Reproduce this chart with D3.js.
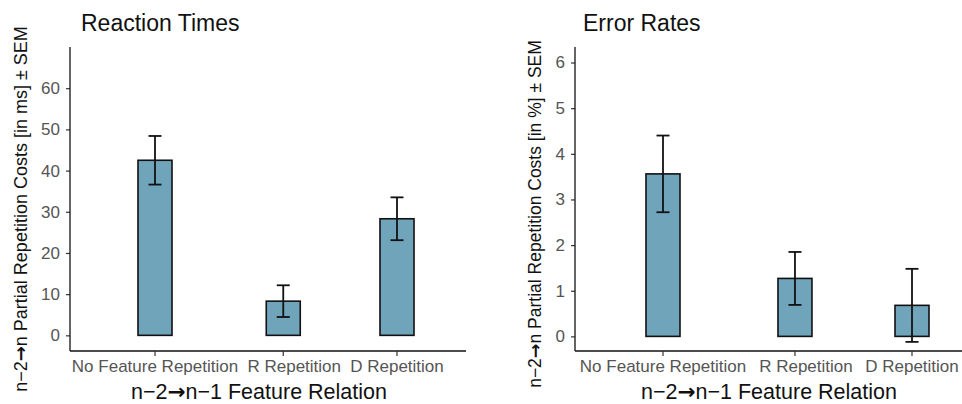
<!DOCTYPE html>
<html>
<head>
<meta charset="utf-8">
<script src="https://cdn.jsdelivr.net/npm/d3@7"></script>
<style>
  body { margin: 0; background: #fff; }
  svg { display: block; font-family: "Liberation Sans", Arial, sans-serif; }
</style>
</head>
<body>
<div id="chart"></div>
<script>
const width = 962;
const height = 404;

// data
const categories = ['No Feature Repetition', 'R Repetition', 'D Repetition'];
const rtMeans = [42.5, 8.3, 28.3];
const rtSems = [5.9, 3.85, 5.2];
const erMeans = [3.56, 1.27, 0.68];
const erSems = [0.84, 0.58, 0.80];
const rtTicks = [0, 10, 20, 30, 40, 50, 60];
const erTicks = [0, 1, 2, 3, 4, 5, 6];

const barFill = '#6fa4bb';
const barWidth = 34;
// the source figure spaces its categories a little unevenly,
// and nudges the middle tick label to the right
const slots = [0, 0.53, 1];
const labelShift = [0, 11, 0];

const svg = d3.select('#chart')
  .append('svg')
  .attr('width', width)
  .attr('height', height);

// label with the heavy arrow in it
function arrowLabel(sel, before, after) {
  sel.append('tspan').text(before);
  sel.append('tspan')
    .style('font-family', '"DejaVu Sans", sans-serif')
    .style('font-weight', 'bold')
    .text('\u2192');
  sel.append('tspan').text(after);
}

// one ggplot-like panel
function drawPanel(p) {
  const g = svg.append('g');

  const y = d3.scaleLinear()
    .domain(p.yDomain)
    .range([p.bottom, p.top]);

  const slotScale = d3.scaleLinear()
    .domain([0, 1])
    .range([p.left + p.firstOffset, p.right - p.lastOffset]);
  const x = d3.scaleOrdinal()
    .domain(categories)
    .range(slots.map(slotScale));

  const data = categories.map((c, i) => ({ cat: c, mean: p.means[i], sem: p.sems[i] }));

  // bars
  g.selectAll('rect.bar')
    .data(data)
    .enter()
    .append('rect')
    .classed('bar', true)
    .attr('x', d => x(d.cat) - barWidth / 2)
    .attr('y', d => y(Math.max(0, d.mean)))
    .attr('width', barWidth)
    .attr('height', d => Math.abs(y(d.mean) - y(0)))
    .attr('fill', barFill)
    .attr('stroke', '#111')
    .attr('stroke-width', 1.6);

  // error bars
  const eb = g.selectAll('g.err')
    .data(data)
    .enter()
    .append('g')
    .classed('err', true)
    .attr('stroke', '#111')
    .attr('stroke-width', 1.8);
  eb.append('line')
    .attr('x1', d => x(d.cat)).attr('x2', d => x(d.cat))
    .attr('y1', d => y(d.mean + d.sem)).attr('y2', d => y(d.mean - d.sem));
  eb.append('line')
    .attr('x1', d => x(d.cat) - 6.5).attr('x2', d => x(d.cat) + 6.5)
    .attr('y1', d => y(d.mean + d.sem)).attr('y2', d => y(d.mean + d.sem));
  eb.append('line')
    .attr('x1', d => x(d.cat) - 6.5).attr('x2', d => x(d.cat) + 6.5)
    .attr('y1', d => y(d.mean - d.sem)).attr('y2', d => y(d.mean - d.sem));

  // y axis
  const yAxis = g.append('g')
    .attr('transform', `translate(${p.left},0)`)
    .call(d3.axisLeft(y).tickValues(p.ticks).tickFormat(d3.format('d'))
      .tickSize(4).tickPadding(6).tickSizeOuter(0));
  yAxis.select('.domain').remove();
  yAxis.append('line')
    .attr('x1', 0).attr('x2', 0)
    .attr('y1', p.top).attr('y2', p.bottom)
    .attr('stroke', '#111').attr('stroke-width', 1.3);
  yAxis.selectAll('.tick line').attr('stroke', '#333').attr('stroke-width', 1.2);
  yAxis.selectAll('.tick text')
    .attr('fill', '#555')
    .style('font-size', '17px')
    .style('font-family', '"Liberation Sans", Arial, sans-serif');

  // x axis, ticks placed through the ordinal scale
  const xAxis = g.append('g')
    .attr('transform', `translate(0,${p.bottom})`);
  xAxis.append('line')
    .attr('x1', p.left).attr('x2', p.right)
    .attr('y1', 0).attr('y2', 0)
    .attr('stroke', '#111').attr('stroke-width', 1.3);
  const xt = xAxis.selectAll('g.tick')
    .data(categories)
    .enter()
    .append('g')
    .classed('tick', true)
    .attr('transform', d => `translate(${x(d)},0)`);
  xt.append('line')
    .attr('y1', 0).attr('y2', 5)
    .attr('stroke', '#333').attr('stroke-width', 1.2);
  xt.append('text')
    .attr('x', (d, i) => labelShift[i])
    .attr('y', 21)
    .attr('text-anchor', 'middle')
    .attr('fill', '#555')
    .style('font-size', '17px')
    .text(d => d);

  // titles
  g.append('text')
    .attr('x', p.titleX)
    .attr('y', 31)
    .style('font-size', '23px')
    .attr('fill', '#111')
    .text(p.title);

  const xl = g.append('text')
    .attr('x', p.xLabelX)
    .attr('y', 399)
    .attr('text-anchor', 'middle')
    .style('font-size', '21.5px')
    .attr('fill', '#111');
  arrowLabel(xl, 'n\u22122', 'n\u22121 Feature Relation');

  const yl = g.append('text')
    .attr('transform', `translate(${p.yLabelX},${p.yLabelY}) rotate(-90)`)
    .attr('text-anchor', 'middle')
    .style('font-size', p.yLabelSize)
    .attr('fill', '#111');
  arrowLabel(yl, 'n\u22122', p.yLabel);
}

drawPanel({
  title: 'Reaction Times',
  yLabel: 'n Partial Repetition Costs [in ms] \u00b1 SEM',
  means: rtMeans, sems: rtSems, ticks: rtTicks,
  yDomain: [-3.8, 70],
  left: 70, right: 466, top: 47, bottom: 351,
  firstOffset: 85, lastOffset: 69,
  titleX: 81, xLabelX: 259, yLabelX: 27, yLabelY: 209, yLabelSize: '18px'
});

drawPanel({
  title: 'Error Rates',
  yLabel: 'n Partial Repetition Costs [in %] \u00b1 SEM',
  means: erMeans, sems: erSems, ticks: erTicks,
  yDomain: [-0.32, 6.34],
  left: 575, right: 975, top: 47, bottom: 351,
  firstOffset: 88, lastOffset: 63,
  titleX: 583, xLabelX: 769, yLabelX: 541, yLabelY: 214, yLabelSize: '17.5px'
});
</script>
</body>
</html>
